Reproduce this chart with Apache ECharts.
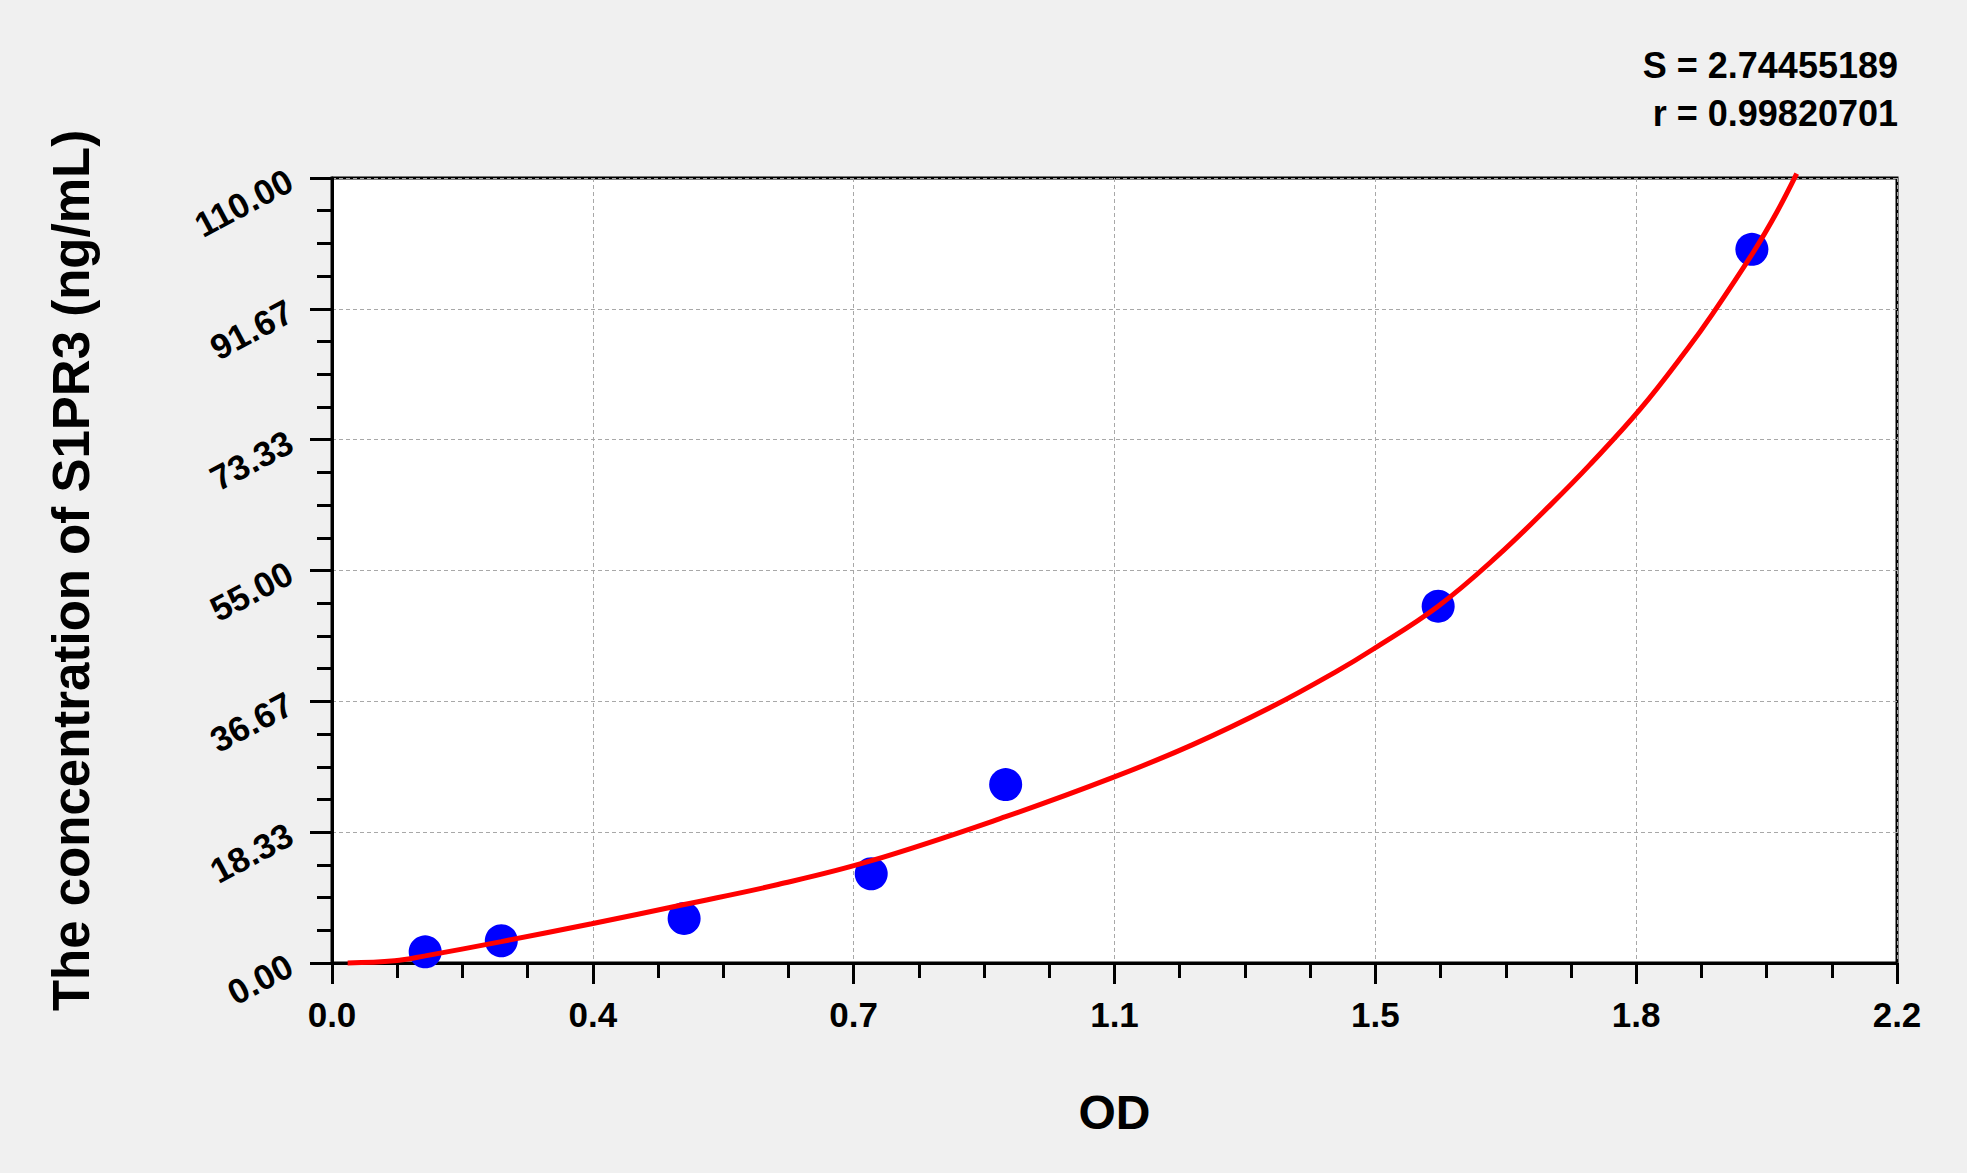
<!DOCTYPE html>
<html>
<head>
<meta charset="utf-8">
<script src="https://cdn.jsdelivr.net/npm/echarts@6/dist/echarts.min.js"></script>
<style>
html,body{margin:0;padding:0;background:#f0f0f0;}
#chart{width:1967px;height:1173px;}
</style>
</head>
<body>
<div id="chart"></div>
<script>
// Standard points (OD, concentration ng/mL)
const standardOD = [0.131, 0.238, 0.495, 0.758, 0.947, 1.555, 1.996];
const standardConc = [1.56, 3.12, 6.25, 12.5, 25, 50, 100];

// Fitted curve
const curveOD = [0.022, 0.088, 0.131, 0.238, 0.365, 0.495, 0.627, 0.757, 0.947,
  1.098, 1.210, 1.321, 1.411, 1.464, 1.555, 1.638, 1.714, 1.768, 1.839,
  1.905, 1.941, 1.998, 2.031, 2.059];
const curveConc = [0.0, 0.3, 1.0, 3.0, 5.5, 8.2, 11.0, 14.3, 20.5,
  26.0, 30.6, 35.9, 40.8, 44.0, 50.0, 57.0, 64.3, 69.8, 77.6,
  86.0, 91.0, 99.6, 105.2, 110.6];

const fitStats = ['S = 2.74455189', 'r = 0.99820701'];
const xAxisTitle = 'OD';
const yAxisTitle = 'The concentration of S1PR3 (ng/mL)';

const FONT = 'Arial, "Liberation Sans", sans-serif';

const chart = echarts.init(document.getElementById('chart'), null, {renderer: 'svg'});

const tickStyle = {color: '#000', width: 3};

chart.setOption({
  backgroundColor: '#f0f0f0',
  animation: false,
  grid: {
    left: 332, right: 70, top: 178, bottom: 210,
    show: true, backgroundColor: '#ffffff', borderColor: '#000', borderWidth: 3
  },
  xAxis: {
    type: 'value',
    min: 0, max: 2.2, interval: 2.2 / 6,
    name: xAxisTitle,
    nameLocation: 'middle',
    nameGap: 125,
    nameTextStyle: {fontFamily: FONT, fontWeight: 'bold', fontSize: 48, color: '#000'},
    axisLine: {show: true, onZero: false, lineStyle: {color: '#000', width: 3}},
    axisTick: {show: true, inside: false, length: 21, lineStyle: tickStyle},
    minorTick: {show: true, splitNumber: 4, length: 15, lineStyle: tickStyle},
    axisLabel: {
      fontFamily: FONT, fontWeight: 'bold', fontSize: 35, color: '#000', margin: 34,
      formatter: v => v.toFixed(1)
    },
    splitLine: {show: true, lineStyle: {color: '#a8a8a8', width: 1, type: [4, 3]}},
    minorSplitLine: {show: false}
  },
  yAxis: {
    type: 'value',
    min: 0, max: 110, interval: 110 / 6,
    name: yAxisTitle,
    nameLocation: 'middle',
    nameGap: 235,
    nameTextStyle: {fontFamily: FONT, fontWeight: 'bold', fontSize: 51, color: '#000'},
    axisLine: {show: true, onZero: false, lineStyle: {color: '#000', width: 3}},
    axisTick: {show: true, inside: false, length: 22, lineStyle: tickStyle},
    minorTick: {show: true, splitNumber: 4, length: 15, lineStyle: tickStyle},
    axisLabel: {
      fontFamily: FONT, fontWeight: 'bold', fontSize: 35, color: '#000', margin: 42,
      rotate: 28,
      formatter: v => v.toFixed(2)
    },
    splitLine: {show: true, lineStyle: {color: '#a8a8a8', width: 1, type: [4, 3]}},
    minorSplitLine: {show: false}
  },
  graphic: [
    {type: 'text', right: 69, top: 47, z: 100,
     style: {text: fitStats[0], fontFamily: FONT, fontWeight: 'bold', fontSize: 36, fill: '#000', align: 'right'}},
    {type: 'text', right: 69, top: 95, z: 100,
     style: {text: fitStats[1], fontFamily: FONT, fontWeight: 'bold', fontSize: 36, fill: '#000', align: 'right'}}
  ],
  series: [
    {
      type: 'scatter',
      data: standardOD.map((x, i) => [x, standardConc[i]]),
      symbol: 'circle',
      symbolSize: 33,
      itemStyle: {color: '#0000ff', opacity: 1},
      z: 2
    },
    {
      type: 'line',
      data: curveOD.map((x, i) => [x, curveConc[i]]),
      smooth: 0.4,
      showSymbol: false,
      clip: false,
      lineStyle: {color: '#ff0000', width: 5},
      z: 3
    }
  ]
});
</script>
</body>
</html>
